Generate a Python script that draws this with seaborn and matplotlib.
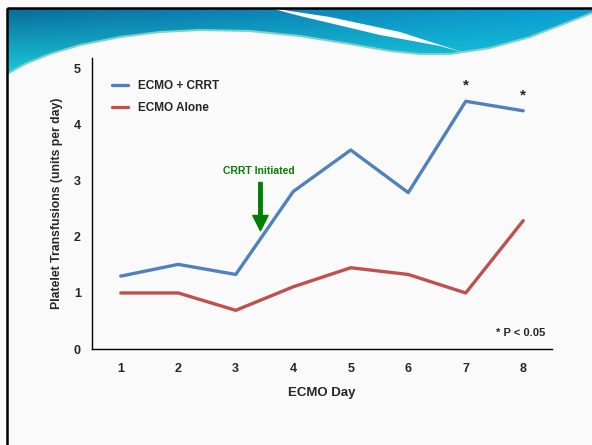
import numpy as np
import pandas as pd
import matplotlib
matplotlib.use('Agg')
import matplotlib.pyplot as plt
from matplotlib.patches import Polygon, Rectangle
import seaborn as sns

days = [1, 2, 3, 4, 5, 6, 7, 8]
ecmo_crrt = [1.30, 1.51, 1.33, 2.81, 3.55, 2.79, 4.42, 4.25]
ecmo_alone = [1.00, 1.00, 0.69, 1.11, 1.45, 1.33, 1.00, 2.29]
series_names = ['ECMO + CRRT', 'ECMO Alone']
significant_days = [7, 8]

df = pd.concat([
    pd.DataFrame({'day': days, 'value': ecmo_crrt, 'group': series_names[0]}),
    pd.DataFrame({'day': days, 'value': ecmo_alone, 'group': series_names[1]}),
])

sns.set_style('white')
plt.rcParams['font.family'] = ['Liberation Sans', 'DejaVu Sans']
plt.rcParams['font.weight'] = 'bold'

fig = plt.figure(figsize=(5.92, 4.45), dpi=100)
fig.patch.set_facecolor('#fafafa')

# slide decoration (header wave + frame)
bg = fig.add_axes([0, 0, 1, 1], zorder=0)
bg.set_xlim(0, 592)
bg.set_ylim(445, 0)
bg.axis('off')
wave_x = [7, 25, 50, 80, 120, 160, 200, 250, 300, 350, 390, 420, 450, 490, 530, 592]
wave_y = [74, 64, 54, 45, 37, 32, 30, 31, 36, 44, 51, 54, 54, 48, 37, 13]
poly = Polygon(list(zip(wave_x, wave_y)) + [(592, 8), (7, 8)], closed=True,
               facecolor='none', edgecolor='none')
bg.add_patch(poly)
gx = np.linspace(0, 1, 200)
gy = np.linspace(0, 1, 60)
GX, GY = np.meshgrid(gx, gy)
c_top_left = np.array([0.04, 0.42, 0.60])
c_bottom = np.array([0.10, 0.80, 0.86])
c_right = np.array([0.05, 0.62, 0.84])
img = (c_top_left[None, None, :] * (1 - GY[..., None]) * (1 - GX[..., None])
       + c_right[None, None, :] * GX[..., None] * (1 - GY[..., None])
       + c_bottom[None, None, :] * GY[..., None])
im = bg.imshow(img, extent=(7, 592, 75, 8), aspect='auto', zorder=1)
im.set_clip_path(poly)
bg.plot(wave_x, wave_y, color='#7fd0c8', lw=1.5, zorder=2)
bg.fill([270, 330, 400, 465, 440, 380, 300], [8, 17, 32, 53, 46, 35, 16],
        color='white', lw=0, zorder=2)
bg.add_patch(Rectangle((7, 8), 600, 450, fill=False, edgecolor='black', lw=1.8, zorder=3))

ax = fig.add_axes([0.1554, 0.2157, 0.777, 0.655], zorder=2)
ax.set_facecolor('none')
sns.lineplot(data=df, x='day', y='value', hue='group', hue_order=series_names,
             palette=['#4F81BD', '#C0504D'], linewidth=2.4, ax=ax)

ax.set_xlim(0.5, 8.5)
ax.set_ylim(0, 5.2)
ax.set_xticks(days)
ax.set_yticks([0, 1, 2, 3, 4, 5])
ax.tick_params(axis='x', length=0, labelsize=9, pad=10)
ax.tick_params(axis='y', length=0, labelsize=9, pad=8)
for lab in ax.get_xticklabels() + ax.get_yticklabels():
    lab.set_fontweight('bold')
ax.set_xlabel('ECMO Day', fontsize=9.5, fontweight='bold', labelpad=9)
ax.set_ylabel('Platelet Transfusions (units per day)', fontsize=8.8, fontweight='bold', labelpad=8)
sns.despine(ax=ax)
for side in ['left', 'bottom']:
    ax.spines[side].set_color('black')
    ax.spines[side].set_linewidth(1.0)

leg = ax.legend(loc='upper left', bbox_to_anchor=(0.02, 0.96), frameon=False,
                handlelength=1.4, fontsize=8.5, labelspacing=0.9)
for t in leg.get_texts():
    t.set_fontweight('bold')

for d in significant_days:
    ax.annotate('*', (d, ecmo_crrt[days.index(d)]), xytext=(0, 6), textcoords='offset points',
                ha='center', va='bottom', fontsize=11, fontweight='bold')

ax.annotate('', xy=(3.43, 2.11), xytext=(3.43, 2.97),
            arrowprops=dict(color='green', width=2.5, headwidth=11, headlength=11))
ax.text(3.40, 3.17, 'CRRT Initiated', color='green', fontsize=7.5, fontweight='bold',
        ha='center', va='center')
ax.text(0.985, 0.055, '* P < 0.05', transform=ax.transAxes, ha='right', va='center',
        fontsize=8, fontweight='bold')

fig.savefig('out.png', dpi=100, facecolor=fig.get_facecolor())
